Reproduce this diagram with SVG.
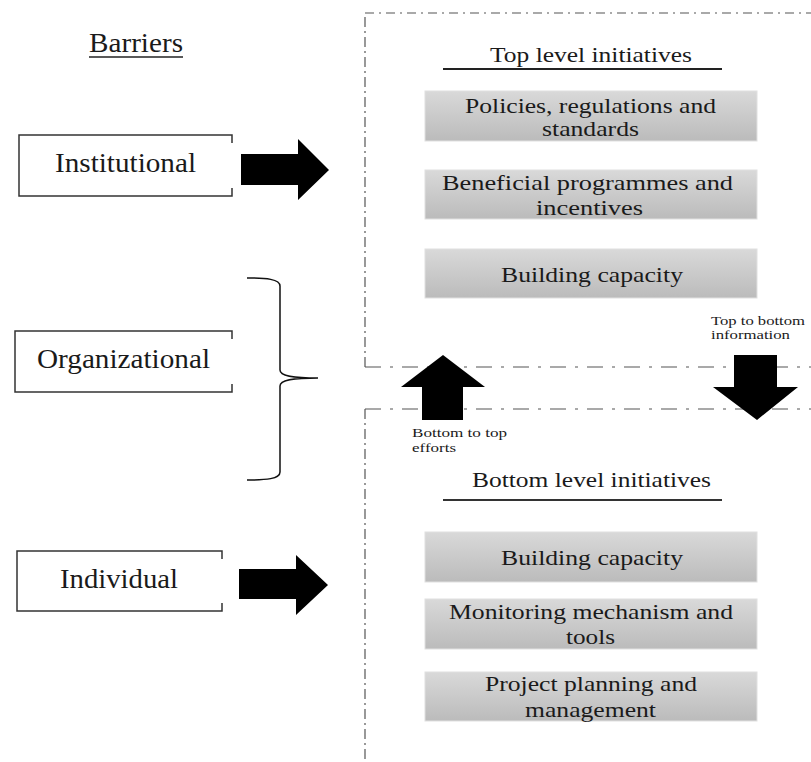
<svg xmlns="http://www.w3.org/2000/svg" width="811" height="762" viewBox="0 0 811 762">
<style>
text{font-family:"Liberation Serif","Times New Roman",Times,serif;fill:#1a1a1a}
.lbl{font-size:28px}
.box{font-size:21px;text-anchor:middle}
.small{font-size:13.5px}
.bar{fill:none;stroke:#333;stroke-width:1.5}
.dash{fill:none;stroke:#555;stroke-width:1.2}
.arrow{fill:#000}
.gray{fill:url(#g);stroke:#e0e0e0;stroke-width:1}
</style>
<defs>
<linearGradient id="g" x1="0" y1="0" x2="0" y2="1">
<stop offset="0" stop-color="#d9d9d9"/>
<stop offset="1" stop-color="#bbbbbb"/>
</linearGradient>
</defs>
<rect width="811" height="762" fill="#fff"/>

<g id="title">
<text x="89" y="52" font-family="Liberation Serif, serif" style="font-size:27px" textLength="94" lengthAdjust="spacingAndGlyphs">Barriers</text>
<line x1="89" y1="57" x2="183" y2="57" stroke="#222" stroke-width="1.5"/>
</g>

<g id="institutional">
<path class="bar" d="M232,143 V135 H19 V196 H232 V188"/>
<text class="lbl" x="55" y="172" textLength="141" lengthAdjust="spacingAndGlyphs">Institutional</text>
</g>
<g id="organizational">
<path class="bar" d="M232,339 V331 H15 V392 H232 V384"/>
<text class="lbl" x="37" y="368" textLength="173" lengthAdjust="spacingAndGlyphs">Organizational</text>
</g>
<g id="individual">
<path class="bar" d="M222,559 V551 H17 V611 H222 V603"/>
<text class="lbl" x="60" y="588" textLength="118" lengthAdjust="spacingAndGlyphs">Individual</text>
</g>

<g id="top-level">
<path class="dash" d="M365,367 V13" stroke-dasharray="10 4 2 4"/>
<path class="dash" d="M365,13 H811" stroke-dasharray="9 5 2 5"/>
<path class="dash" d="M365,367 H811" stroke-dasharray="16 9 3 9"/>
<text x="490" y="62" style="font-size:21px" textLength="202" lengthAdjust="spacingAndGlyphs">Top level initiatives</text>
<line x1="443" y1="69" x2="722" y2="69" stroke="#222" stroke-width="2"/>
</g>
<g id="policies">
<rect class="gray" x="425" y="91" width="332" height="50"/>
<text class="box" x="590.5" y="113" textLength="251" lengthAdjust="spacingAndGlyphs">Policies, regulations and</text>
<text class="box" x="590.5" y="136" textLength="97" lengthAdjust="spacingAndGlyphs">standards</text>
</g>
<g id="beneficial">
<rect class="gray" x="425" y="170" width="332" height="49"/>
<text class="box" x="587.5" y="190" textLength="291" lengthAdjust="spacingAndGlyphs">Beneficial programmes and</text>
<text class="box" x="589.5" y="215" textLength="107" lengthAdjust="spacingAndGlyphs">incentives</text>
</g>
<g id="capacity-top">
<rect class="gray" x="425" y="249" width="332" height="49"/>
<text class="box" x="592" y="282" textLength="182" lengthAdjust="spacingAndGlyphs">Building capacity</text>
</g>

<g id="bottom-level">
<path class="dash" d="M365,409 V762" stroke-dasharray="10 4 2 4"/>
<path class="dash" d="M365,409 H811" stroke-dasharray="16 9 3 9"/>
<text x="472" y="487" style="font-size:22px" textLength="239" lengthAdjust="spacingAndGlyphs">Bottom level initiatives</text>
<line x1="443" y1="500" x2="722" y2="500" stroke="#333" stroke-width="2.2"/>
</g>
<g id="capacity-bottom">
<rect class="gray" x="425" y="532" width="332" height="50"/>
<text class="box" x="592" y="565" textLength="182" lengthAdjust="spacingAndGlyphs">Building capacity</text>
</g>
<g id="monitoring">
<rect class="gray" x="425" y="599" width="332" height="50"/>
<text class="box" x="591" y="619" textLength="284" lengthAdjust="spacingAndGlyphs">Monitoring mechanism and</text>
<text class="box" x="590.5" y="644" textLength="49" lengthAdjust="spacingAndGlyphs">tools</text>
</g>
<g id="planning">
<rect class="gray" x="425" y="672" width="332" height="49"/>
<text class="box" x="591" y="691" textLength="212" lengthAdjust="spacingAndGlyphs">Project planning and</text>
<text class="box" x="590.5" y="717" textLength="131" lengthAdjust="spacingAndGlyphs">management</text>
</g>

<g id="connectors">
<polygon class="arrow" points="241,154 298,154 298,139 329,170 298,200 298,185 241,185"/>
<polygon class="arrow" points="239,569 296,569 296,555 328,585 296,615 296,599 239,599"/>
<path fill="none" stroke="#111" stroke-width="1.5" d="M247,278 C266,278 280,279 280,286 L280,370 C280,376 292,378 318,378 C292,378 280,380 280,386 L280,472 C280,479 266,480 247,480"/>
<polygon class="arrow" points="443,355 485,387 463,387 463,420 422,420 422,387 401,387"/>
<polygon class="arrow" points="734,355 777,355 777,387 798,387 757,420 713,387 734,387"/>
<text class="small" x="412" y="437" textLength="95" lengthAdjust="spacingAndGlyphs">Bottom to top</text>
<text class="small" x="412" y="452" textLength="44" lengthAdjust="spacingAndGlyphs">efforts</text>
<text class="small" x="711" y="325" textLength="94" lengthAdjust="spacingAndGlyphs">Top to bottom</text>
<text class="small" x="711" y="339" textLength="79" lengthAdjust="spacingAndGlyphs">information</text>
</g>
</svg>
